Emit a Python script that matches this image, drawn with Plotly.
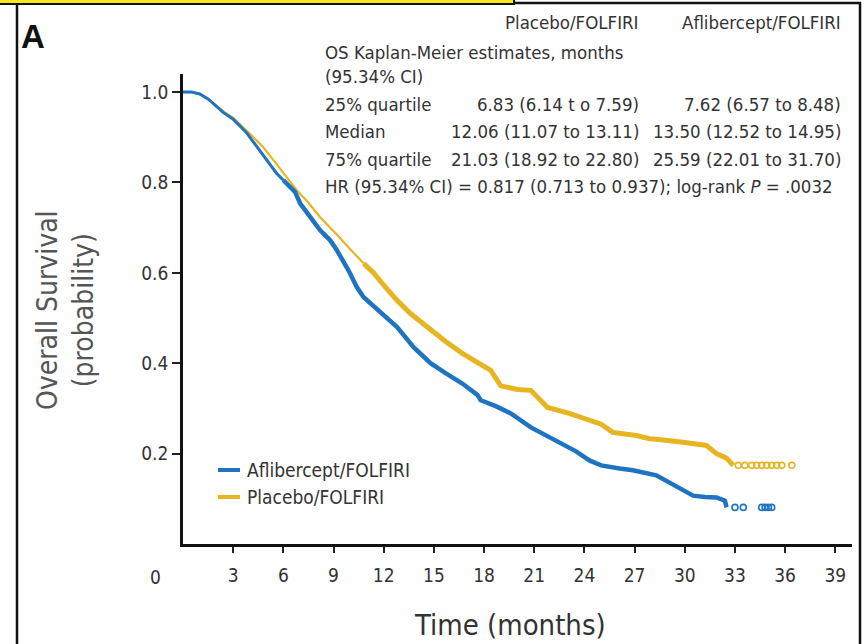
import plotly.graph_objects as go

# Kaplan-Meier overall survival estimates (time in months, survival probability)
afl_time = [0, 0.5, 1.0, 1.5, 2.4, 3.0, 3.8, 4.6, 5.6, 6.0, 6.7, 7.0, 8.2, 8.8, 9.2, 9.9,
            10.4, 10.8, 12.0, 12.8, 13.8, 14.8, 15.7, 16.7, 17.6, 17.8, 18.7, 19.6, 20.8,
            21.7, 22.7, 23.5, 24.3, 25.0, 26.1, 26.9, 28.3, 28.9, 29.7, 30.5, 31.2, 31.9,
            32.4, 32.5]
afl_surv = [1.0, 1.0, 0.996, 0.985, 0.955, 0.94, 0.91, 0.871, 0.82, 0.805, 0.779, 0.754,
            0.694, 0.672, 0.65, 0.605, 0.568, 0.546, 0.505, 0.48, 0.435, 0.40, 0.378, 0.355,
            0.33, 0.318, 0.305, 0.289, 0.258, 0.24, 0.222, 0.205, 0.185, 0.174, 0.167, 0.163,
            0.152, 0.14, 0.125, 0.107, 0.104, 0.103, 0.096, 0.081]
afl_cens_time = [33.0, 33.5, 34.6, 34.8, 35.0, 35.2]
afl_cens_surv = [0.081, 0.081, 0.081, 0.081, 0.081, 0.081]

pbo_time = [0, 0.5, 1.0, 1.5, 2.4, 3.0, 3.8, 4.8, 5.5, 6.2, 6.8, 7.5, 8.2, 8.8, 9.2, 10.0,
            10.8, 11.4, 12.0, 12.8, 13.6, 14.8, 15.7, 16.7, 17.8, 18.4, 19.0, 20.0, 20.8,
            21.8, 23.1, 24.3, 25.0, 25.7, 26.3, 27.1, 27.9, 28.3, 29.9, 31.3, 31.9, 32.5, 32.9]
pbo_surv = [1.0, 1.0, 0.995, 0.985, 0.958, 0.943, 0.915, 0.878, 0.845, 0.812, 0.783, 0.755,
            0.723, 0.70, 0.685, 0.652, 0.621, 0.60, 0.573, 0.539, 0.51, 0.473, 0.448, 0.422,
            0.398, 0.384, 0.35, 0.342, 0.34, 0.302, 0.289, 0.274, 0.265, 0.247, 0.245, 0.24,
            0.233, 0.232, 0.225, 0.218, 0.20, 0.19, 0.174]
pbo_cens_time = [33.2, 33.6, 34.0, 34.3, 34.6, 34.9, 35.2, 35.5, 35.8, 36.4]
pbo_cens_surv = [0.174] * 10

x_ticks = [3, 6, 9, 12, 15, 18, 21, 24, 27, 30, 33, 36, 39]
y_ticks = [0.2, 0.4, 0.6, 0.8, 1.0]

table_header = ["Placebo/FOLFIRI", "Aflibercept/FOLFIRI"]
table_rows = [
    ("25% quartile", "6.83 (6.14 t o 7.59)", "7.62 (6.57 to 8.48)"),
    ("Median", "12.06 (11.07 to 13.11)", "13.50 (12.52 to 14.95)"),
    ("75% quartile", "21.03 (18.92 to 22.80)", "25.59 (22.01 to 31.70)"),
]
hr_text = "HR (95.34% CI) = 0.817 (0.713 to 0.937); log-rank <i>P</i> = .0032"

BLUE = "#1f74c2"
GOLD = "#e6b521"
TEXT = "#333333"
FONT = "Liberation Sans Narrow, DejaVu Sans Condensed, Arial Narrow, sans-serif"

W, H = 865, 644
ML, MR, MT, MB = 183, 13, 74, 100
PW, PH = W - ML - MR, H - MT - MB


def px(x):
    return (x - ML) / PW


def py(y):
    return (H - MB - y) / PH


fig = go.Figure()


def add_curve(t, s, split, color, w_early, w_late):
    fig.add_trace(go.Scatter(x=t[:split + 1], y=s[:split + 1], mode="lines",
                             line=dict(color=color, width=w_early),
                             showlegend=False, hoverinfo="skip"))
    fig.add_trace(go.Scatter(x=t[split:], y=s[split:], mode="lines",
                             line=dict(color=color, width=w_late),
                             showlegend=False, hoverinfo="skip"))


# placebo first (drawn beneath), thin early segment then dense censoring band
add_curve(pbo_time, pbo_surv, 16, GOLD, 2.2, 5)
add_curve(afl_time, afl_surv, 9, BLUE, 3, 4.5)

fig.add_trace(go.Scatter(x=pbo_cens_time, y=pbo_cens_surv, mode="markers",
                         marker=dict(symbol="circle-open", size=6, color=GOLD,
                                     line=dict(width=1.6)),
                         showlegend=False, hoverinfo="skip"))
fig.add_trace(go.Scatter(x=afl_cens_time, y=afl_cens_surv, mode="markers",
                         marker=dict(symbol="circle-open", size=6, color=BLUE,
                                     line=dict(width=1.6)),
                         showlegend=False, hoverinfo="skip"))

ann = []
# table of estimates
ann.append(dict(x=px(641), y=py(22), text=table_header[0], xanchor="right"))
ann.append(dict(x=px(843), y=py(22), text=table_header[1], xanchor="right"))
ann.append(dict(x=px(323), y=py(52), text="OS Kaplan-Meier estimates, months", xanchor="left"))
ann.append(dict(x=px(323), y=py(76), text="(95.34% CI)", xanchor="left"))
for i, (lab, a, b) in enumerate(table_rows):
    yy = py(104 + 27.5 * i)
    ann.append(dict(x=px(323), y=yy, text=lab, xanchor="left"))
    ann.append(dict(x=px(641), y=yy, text=a, xanchor="right"))
    ann.append(dict(x=px(843), y=yy, text=b, xanchor="right"))
ann.append(dict(x=px(323), y=py(186.5), text=hr_text, xanchor="left"))
for a in ann:
    a.update(xref="paper", yref="paper", yanchor="middle", showarrow=False,
             font=dict(family=FONT, size=18.5, color=TEXT))

extra = [
    dict(x=px(245), y=py(470), text="Aflibercept/FOLFIRI", xanchor="left",
         font=dict(family=FONT, size=19, color=TEXT)),
    dict(x=px(245), y=py(497), text="Placebo/FOLFIRI", xanchor="left",
         font=dict(family=FONT, size=19, color=TEXT)),
    dict(x=px(155), y=py(577), text="0", xanchor="center",
         font=dict(family=FONT, size=19, color=TEXT)),
    dict(x=px(510), y=py(625), text="Time (months)", xanchor="center",
         font=dict(family=FONT, size=29, color=TEXT)),
    dict(x=px(65), y=py(310), text="Overall Survival<br>(probability)", xanchor="center",
         textangle=-90, font=dict(family=FONT, size=28, color="#555555")),
    dict(x=px(19), y=py(36), text="<b>A</b>", xanchor="left",
         font=dict(family="Liberation Sans, Arial, sans-serif", size=33, color="#111111")),
]
for a in extra:
    a.update(xref="paper", yref="paper", yanchor="middle", showarrow=False)
ann += extra

shapes = [
    # legend swatches
    dict(type="line", xref="paper", yref="paper", x0=px(218), x1=px(240),
         y0=py(470), y1=py(470), line=dict(color=BLUE, width=4)),
    dict(type="line", xref="paper", yref="paper", x0=px(218), x1=px(240),
         y0=py(497), y1=py(497), line=dict(color=GOLD, width=4)),
    # panel frame
    dict(type="rect", xref="paper", yref="paper", x0=px(17), x1=px(860),
         y0=py(660), y1=py(3), line=dict(color="#111111", width=2.5)),
    # highlight strip
    dict(type="rect", xref="paper", yref="paper", x0=px(-5), x1=px(514),
         y0=py(4), y1=py(-5), fillcolor="#f7e81c", line=dict(color="#111111", width=2)),
]

fig.update_layout(
    width=W, height=H,
    margin=dict(l=ML, r=MR, t=MT, b=MB),
    paper_bgcolor="white", plot_bgcolor="white",
    annotations=ann, shapes=shapes,
    xaxis=dict(range=[0, 40], tickvals=x_ticks, ticks="outside", ticklen=6,
               tickwidth=1.5, tickcolor="#222", showline=True, linecolor="#111",
               linewidth=2.5, showgrid=False, zeroline=False, ticklabelstandoff=6,
               tickfont=dict(family=FONT, size=19, color=TEXT)),
    yaxis=dict(range=[0, 1.04], tickvals=y_ticks, ticktext=["0.2", "0.4", "0.6", "0.8", "1.0"],
               ticks="outside", ticklen=8, tickwidth=1.5, tickcolor="#222",
               showline=True, linecolor="#111", linewidth=2.5, showgrid=False,
               zeroline=False, tickfont=dict(family=FONT, size=19, color=TEXT)),
)

fig.write_html("out.html")
